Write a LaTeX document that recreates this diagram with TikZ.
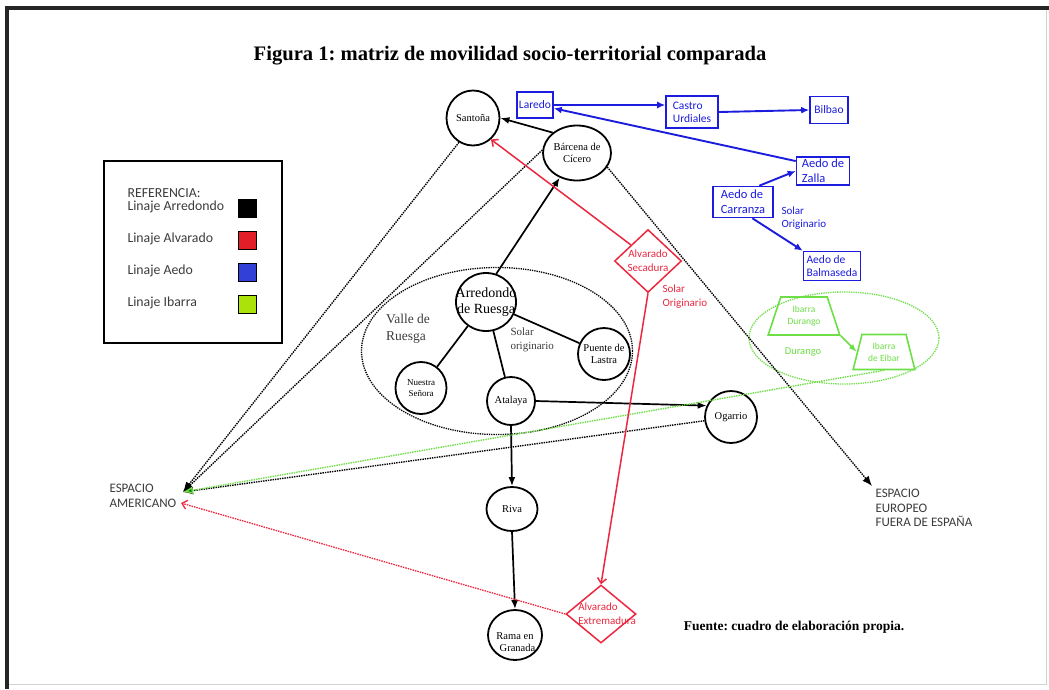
\documentclass[tikz,border=0pt]{standalone}
\usepackage{fontspec}
\setmainfont{Liberation Serif}
\newfontfamily\calib{Carlito}
\usetikzlibrary{shapes.geometric,arrows.meta}
\frenchspacing
\definecolor{aedoblue}{RGB}{28,28,222}
\definecolor{alvred}{RGB}{236,40,64}
\definecolor{ibgreen}{RGB}{110,222,70}
\definecolor{legred}{RGB}{226,30,40}
\definecolor{legblue}{RGB}{50,64,216}
\definecolor{leggreen}{RGB}{170,226,10}
\definecolor{txtgray}{RGB}{60,60,60}

\begin{document}
\begin{tikzpicture}[x=1pt,y=-1pt,
    place/.style={draw,ellipse,line width=1.8pt,inner sep=1pt},
    placetxt/.style={align=center,font=\fontsize{10.5}{12}\selectfont},
    aedobox/.style={draw=aedoblue,line width=1.6pt,text=aedoblue,align=left,inner sep=2pt,
        font=\calib\fontsize{11.5}{13}\selectfont},
    alvmark/.style={draw=alvred,diamond,line width=1.5pt,inner sep=1pt},
    alvtxt/.style={text=alvred,align=center,font=\calib\fontsize{11}{14}\selectfont},
    ibmark/.style={draw=ibgreen,trapezium,trapezium stretches=true,line width=1.6pt,inner sep=1pt,
        text=ibgreen,align=center,font=\calib\fontsize{9.5}{12}\selectfont},
    zone/.style={draw,ellipse,densely dotted,line width=1.3pt,inner sep=1pt},
    esp/.style={text=txtgray,align=left,font=\calib\fontsize{13}{14.5}\selectfont},
    legtxt/.style={text=txtgray,anchor=west,font=\calib\fontsize{13.8}{15}\selectfont},
    blkarrow/.style={line width=1.7pt,-{Latex[length=9pt,width=7pt]}},
    dotarrow/.style={densely dotted,line width=1.4pt,-{Latex[length=10pt,width=8pt]}},
    redarrow/.style={alvred,line width=1.5pt,-{Straight Barb[length=5pt,width=9pt]}},
    bluearrow/.style={aedoblue,line width=1.9pt,-{Latex[length=8pt,width=7pt]}}]
    \useasboundingbox (0,0) rectangle (1049,689);
    \fill[white] (0,0) rectangle (1049,689);
    \draw[gray!35] (7,684) -- (1046,684) -- (1046,8);
    \draw[line width=3.2pt,black!85] (7,689) |- (1049,8);

    \node[font=\bfseries\fontsize{20.6}{24}\selectfont] (titulo) at (510,56)
        {Figura 1: matriz de movilidad socio-territorial comparada};
    \node[font=\bfseries\fontsize{13.5}{15}\selectfont] (fuente) at (794,627)
        {Fuente: cuadro de elaboración propia.};

    \draw[line width=2.2pt] (104,161) rectangle (282,343);
    \node[legtxt] (referencia) at (124,193) {REFERENCIA:};
    \foreach \y/\nm/\c in {207/Arredondo/black, 239/Alvarado/legred, 271/Aedo/legblue,
                           303/Ibarra/leggreen}
    {
        \node[legtxt] (leg\nm) at (124,\y) {Linaje \nm};
        \draw[line width=0.8pt,fill=\c] (238,\y-8) rectangle (256,\y+10);
    }

    \node[zone,minimum width=271,minimum height=167] (valle) at (497,351) {};
    \node[zone,draw=ibgreen,minimum width=190,minimum height=92] (ibarrazona) at (844,338) {};
    \node[text=txtgray,align=left,font=\fontsize{13.5}{16.5}\selectfont] (vallename) at (408,329)
        {Valle de\\Ruesga};
    \node[text=txtgray,align=left,anchor=west,font=\fontsize{11}{14}\selectfont] (solarblk) at (507,340)
        {Solar\\originario};

    \node[place,minimum width=53,minimum height=55,label={[placetxt]center:Santoña}] (santona) at (473,118) {};
    \node[place,minimum width=68,minimum height=55,label={[placetxt]center:Bárcena de\\Cícero}] (barcena) at (577,153) {};
    \node[place,minimum width=60,minimum height=58,
        label={[align=center,font=\fontsize{14}{16}\selectfont]center:Arredondo\\de Ruesga}] (arredondo) at (486,302) {};
    \node[place,minimum width=52,minimum height=52,label={[placetxt]center:Puente de\\Lastra}] (puente) at (604,354) {};
    \node[place,minimum width=51,minimum height=52,
        label={[align=center,font=\fontsize{9}{10.5}\selectfont]center:Nuestra\\Señora}] (nuestra) at (421,388) {};
    \node[place,minimum width=48,minimum height=48,label={[placetxt]center:Atalaya}] (atalaya) at (511,401) {};
    \node[place,minimum width=52,minimum height=52,label={[placetxt]center:Ogarrio}] (ogarrio) at (731,417) {};
    \node[place,minimum width=51,minimum height=44,label={[placetxt]center:Riva}] (riva) at (512,509) {};
    \node[place,minimum width=54,minimum height=50,
        label={[placetxt,yshift=-7pt]center:Rama en\\\hspace*{5pt}Granada}] (rama) at (515,635) {};

    \node[aedobox,minimum width=36,minimum height=26] (laredo) at (535,105) {Laredo};
    \node[aedobox,minimum width=52,minimum height=32] (castro) at (692,112) {Castro\\Urdiales};
    \node[aedobox,minimum width=38,minimum height=27] (bilbao) at (829,110) {Bilbao};
    \node[aedobox,minimum width=53,minimum height=28,font=\calib\fontsize{12.5}{15}\selectfont] (zalla) at (823,171)
        {Aedo de\\Zalla};
    \node[aedobox,minimum width=60,minimum height=31,font=\calib\fontsize{12.5}{15}\selectfont] (carranza) at (743,202)
        {Aedo de\\Carranza};
    \node[aedobox,minimum width=57,minimum height=29] (balmaseda) at (832,266) {Aedo de\\Balmaseda};
    \node[text=aedoblue,align=left,anchor=west,font=\calib\fontsize{11}{13}\selectfont] (solarazul) at (778,218)
        {Solar\\Originario};

    \node[alvmark,minimum width=67,minimum height=63,label={[alvtxt]center:Alvarado\\Secadura}] (secadura) at (648,261) {};
    \node[alvtxt,anchor=west,align=left] (solarrojo) at (659,297) {Solar\\Originario};
    \node[alvmark,minimum width=70,minimum height=58,
        label={[alvtxt,align=left,xshift=6pt]center:Alvarado\\Extremadura}] (extremadura) at (601,614) {};

    \node[ibmark,minimum width=72,minimum height=38,trapezium angle=67] (durango) at (804,316) {Ibarra\\Durango};
    \node[ibmark,minimum width=62,minimum height=35,trapezium angle=72] (eibar) at (884,352) {Ibarra\\de Eibar};
    \node[text=ibgreen,font=\calib\fontsize{10.5}{12}\selectfont] (durangoname) at (803,352) {Durango};

    \node[esp,anchor=west] (americano) at (106,496) {ESPACIO\\AMERICANO};
    \node[esp,anchor=north west] (europeo) at (872,486) {ESPACIO\\EUROPEO\\FUERA DE ESPAÑA};
    \coordinate (amerblk) at (183,492);
    \coordinate (amerred) at (181,503);

    \draw[blkarrow] (barcena.140) -- (santona.east);
    \draw[blkarrow] (arredondo.70) -- (barcena.235);
    \path[draw,line width=1.7pt] (arredondo) -- (nuestra) (arredondo) -- (atalaya) (arredondo) -- (puente);
    \draw[blkarrow] (atalaya.east) -- (ogarrio.155);
    \draw[blkarrow] (atalaya.south) -- (riva.north);
    \draw[blkarrow] (riva.south) -- (rama.north);

    \draw[dotarrow] (santona.240) -- (amerblk);
    \draw[dotarrow] (barcena.175) -- (amerblk);
    \draw[dotarrow] (ogarrio.188) -- (amerblk);
    \draw[dotarrow] (barcena.-25) -- (europeo.north west);
    \draw[dotarrow,ibgreen,-{Latex[length=10pt,width=8pt,fill=green!45!black]}] (eibar.south) -- (amerblk);
    \draw[redarrow,densely dotted,line width=1.3pt] (extremadura.west) -- (amerred);

    \draw[redarrow] (secadura.north west) -- (santona.-50);
    \draw[redarrow] (secadura.south) -- (extremadura.north);

    \draw[bluearrow] (laredo.east) -- (castro.west |- laredo.east);
    \draw[bluearrow] (castro.east) -- (bilbao.west);
    \draw[bluearrow] (zalla.160) -- (laredo.-10);
    \draw[bluearrow] (carranza.45) -- (zalla.west);
    \draw[bluearrow] (carranza.-60) -- (balmaseda.north west);

    \draw[ibgreen,line width=1.6pt,-{Latex[length=8pt,width=6pt]}] (durango.bottom right corner) -- (eibar.west);

\end{tikzpicture}
\end{document}
